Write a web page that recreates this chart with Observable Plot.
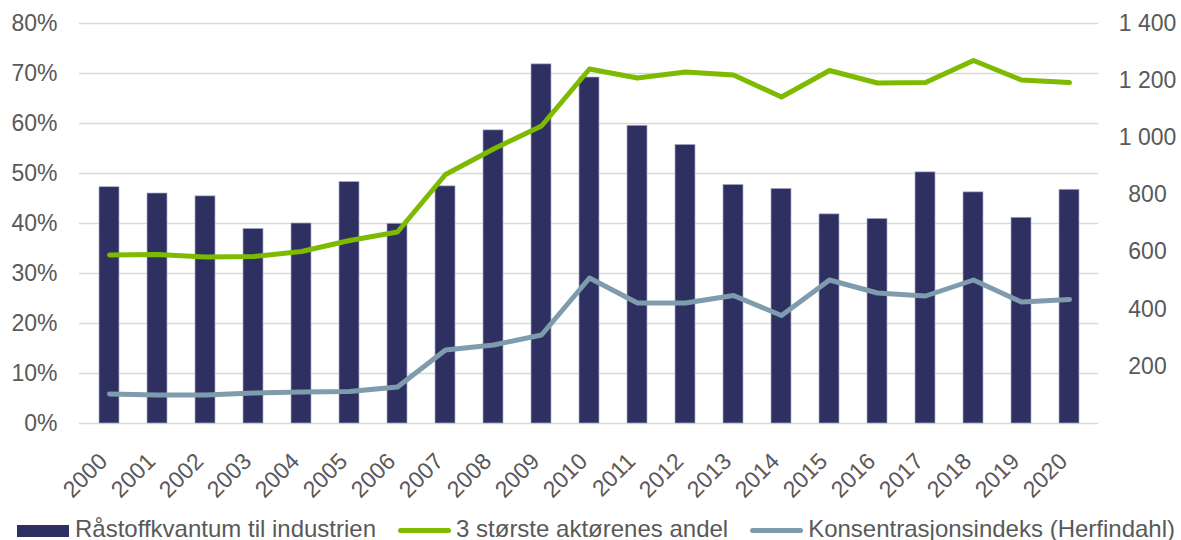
<!DOCTYPE html>
<html><head><meta charset="utf-8">
<script src="https://cdn.jsdelivr.net/npm/d3@7"></script>
<script src="https://cdn.jsdelivr.net/npm/@observablehq/plot@0.6"></script>
<style>
html,body{margin:0;padding:0;background:#fff;overflow:hidden;}
#wrap{position:relative;width:1181px;height:540px;font-family:"Liberation Sans",Arial,sans-serif;}
#chart{position:absolute;left:0;top:0;}
#legend{position:absolute;left:17px;top:514px;font-size:24px;line-height:30px;color:#595959;white-space:nowrap;}
#legend .item{display:inline-block;margin-right:22px;}
#legend .rect{display:inline-block;width:52px;height:12px;vertical-align:baseline;margin-right:6px;}
#legend .line{display:inline-block;width:53px;height:5px;border-radius:3px;vertical-align:4px;margin-right:5px;}
</style></head>
<body><div id="wrap"><div id="chart"></div><div id="legend"></div></div>
<script>
const years = [2000,2001,2002,2003,2004,2005,2006,2007,2008,2009,2010,2011,2012,2013,2014,2015,2016,2017,2018,2019,2020];
// Råstoffkvantum til industrien (right axis)
const volume = [827,805,795,681,700,845,699,830,1026,1257,1211,1042,975,835,821,732,716,879,809,720,818];
// 3 største aktørenes andel (%)
const top3Share = [33.7,33.8,33.3,33.4,34.4,36.6,38.3,49.8,54.9,59.5,70.9,69.1,70.3,69.7,65.3,70.6,68.1,68.2,72.6,68.7,68.2];
// Konsentrasjonsindeks (Herfindahl) (%)
const herfindahl = [5.9,5.7,5.7,6.1,6.3,6.4,7.3,14.7,15.7,17.7,29.1,24.1,24.1,25.6,21.6,28.7,26.1,25.5,28.7,24.3,24.8];
const leftTicks = [0,10,20,30,40,50,60,70,80];
const rightTicks = [200,400,600,800,1000,1200,1400];
const seriesNames = ["Råstoffkvantum til industrien","3 største aktørenes andel","Konsentrasjonsindeks (Herfindahl)"];
const seriesColors = ["#2d3061","#7dba00","#7f9bae"];

const leftMax = 80, rightMax = 1400;
const toLeft = v => v * leftMax / rightMax;
const fmt = d3.formatLocale({decimal:",", thousands:" ", grouping:[3], currency:["",""]}).format(",d");

const rows = years.map((y,i)=>({year:String(y), volume:volume[i], top3:top3Share[i], hhi:herfindahl[i]}));

const chart = Plot.plot({
  width:1181, height:510,
  marginTop:23, marginBottom:87, marginLeft:79, marginRight:83,
  style:{fontFamily:"'Liberation Sans', Arial, sans-serif", fontSize:"23px", color:"#595959", background:"white"},
  x:{type:"band", domain: years.map(String), paddingInner:0.59, paddingOuter:0.295, label:null, axis:null},
  y:{domain:[0,leftMax], label:null},
  marks:[
    Plot.ruleY(leftTicks, {stroke:"#d9d9d9", strokeWidth:1.3}),
    Plot.barY(rows, {x:"year", y:d=>toLeft(d.volume), fill:seriesColors[0], stroke:"#a9acc6", strokeWidth:0.7}),
    Plot.line(rows, {x:"year", y:"top3", stroke:seriesColors[1], strokeWidth:5, strokeLinejoin:"round", strokeLinecap:"round"}),
    Plot.line(rows, {x:"year", y:"hhi", stroke:seriesColors[2], strokeWidth:5, strokeLinejoin:"round", strokeLinecap:"round"}),
    Plot.axisY(leftTicks, {anchor:"left", tickSize:0, tickPadding:22, tickFormat:d=>d+"%", fill:"#595959"}),
    Plot.axisY(rightTicks.map(toLeft), {anchor:"right", tickSize:0, tickPadding:49, textAnchor:"middle", fill:"#595959", tickFormat:d=>fmt(Math.round(d*rightMax/leftMax))}),
    Plot.text(rows, {x:"year", y:() => 0, text:"year", rotate:-45, textAnchor:"end", lineAnchor:"middle", dx:-6, dy:34, fill:"#595959", fontSize:23})
  ]
});
document.getElementById("chart").appendChild(chart);

const legend = document.getElementById("legend");
seriesNames.forEach((name,i)=>{
  const item = document.createElement("span");
  item.className = "item";
  const sw = document.createElement("span");
  sw.className = i===0 ? "rect" : "line";
  sw.style.background = seriesColors[i];
  item.appendChild(sw);
  item.appendChild(document.createTextNode(name));
  legend.appendChild(item);
});
</script>
</body></html>
